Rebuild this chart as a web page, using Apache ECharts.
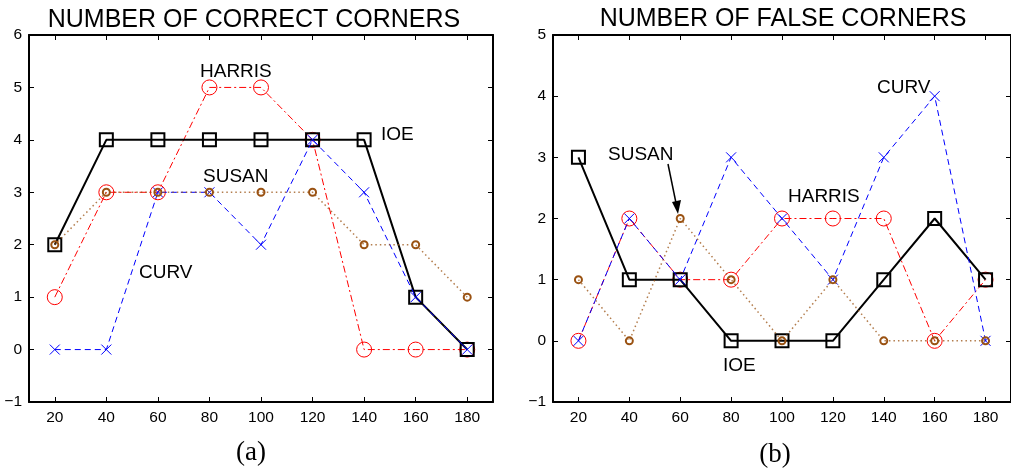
<!DOCTYPE html>
<html>
<head>
<meta charset="utf-8">
<script src="https://cdn.jsdelivr.net/npm/echarts@6/dist/echarts.min.js"></script>
<style>
html,body{margin:0;padding:0;background:#fff;}
#chart{width:1011px;height:470px;}
</style>
</head>
<body>
<div id="chart"></div>
<script>
const xValues = [20, 40, 60, 80, 100, 120, 140, 160, 180];
const xTicks = [20, 40, 60, 80, 100, 120, 140, 160, 180];

// (a) Number of correct corners
const correctIOE    = [2, 4, 4, 4, 4, 4, 4, 1, 0];
const correctHARRIS = [1, 3, 3, 5, 5, 4, 0, 0, 0];
const correctCURV   = [0, 0, 3, 3, 2, 4, 3, 1, 0];
const correctSUSAN  = [2, 3, 3, 3, 3, 3, 2, 2, 1];

// (b) Number of false corners
const falseIOE    = [3, 1, 1, 0, 0, 0, 1, 2, 1];
const falseHARRIS = [0, 2, 1, 1, 2, 2, 2, 0, 1];
const falseCURV   = [0, 2, 1, 3, 2, 1, 3, 4, 0];
const falseSUSAN  = [1, 0, 2, 1, 0, 1, 0, 0, 0];

const titles = ['NUMBER OF CORRECT CORNERS', 'NUMBER OF FALSE CORNERS'];
const panelLabels = ['(a)', '(b)'];

const FONT = 'Liberation Sans, Arial, Helvetica, sans-serif';
const RED = '#ff0000', BLUE = '#0000ff', BROWN = '#9a5212', BLACK = '#000000';
const pts = ys => xValues.map((x, i) => [x, ys[i]]);
const crossPath = 'path://M0,0L10,10M10,0L0,10';

function seriesSet(gi, ioe, harris, curv, susan) {
  return [
    { type: 'line', xAxisIndex: gi * 2, yAxisIndex: gi * 2, data: pts(harris), z: 2,
      symbol: 'circle', symbolSize: 15, showAllSymbol: true,
      lineStyle: { color: RED, width: 1, type: [7, 3, 2, 3] },
      itemStyle: { color: 'rgba(0,0,0,0)', borderColor: RED, borderWidth: 1 } },
    { type: 'line', xAxisIndex: gi * 2, yAxisIndex: gi * 2, data: pts(ioe), z: 3,
      symbol: 'rect', symbolSize: 13, showAllSymbol: true,
      lineStyle: { color: BLACK, width: 2, type: 'solid' },
      itemStyle: { color: 'rgba(0,0,0,0)', borderColor: BLACK, borderWidth: 2 } },
    { type: 'line', xAxisIndex: gi * 2, yAxisIndex: gi * 2, data: pts(curv), z: 4,
      symbol: crossPath, symbolSize: 10, showAllSymbol: true,
      lineStyle: { color: BLUE, width: 1, type: [6, 4] },
      itemStyle: { color: 'none', borderColor: BLUE, borderWidth: 1 } },
    { type: 'line', xAxisIndex: gi * 2, yAxisIndex: gi * 2, data: pts(susan), z: 5,
      symbol: 'circle', symbolSize: 7, showAllSymbol: true,
      lineStyle: { color: BROWN, width: 1.5, type: [1.5, 3], opacity: 0.75 },
      itemStyle: { color: 'rgba(0,0,0,0)', borderColor: BROWN, borderWidth: 2 } }
  ];
}

function xAxes(gi) {
  return [
    { type: 'value', gridIndex: gi, min: 10, max: 190, position: 'bottom',
      axisLine: { show: true, onZero: false, lineStyle: { color: BLACK, width: 2 } },
      axisTick: { show: true, inside: true, length: 5, customValues: xTicks, lineStyle: { color: BLACK } },
      axisLabel: { show: true, customValues: xTicks, margin: 8, color: BLACK, fontSize: 15.5, fontFamily: FONT },
      splitLine: { show: false } },
    { type: 'value', gridIndex: gi, min: 10, max: 190, position: 'top',
      axisLine: { show: true, onZero: false, lineStyle: { color: BLACK, width: 2 } },
      axisTick: { show: true, inside: true, length: 5, customValues: xTicks, lineStyle: { color: BLACK } },
      axisLabel: { show: false }, splitLine: { show: false } }
  ];
}

function yAxes(gi, max) {
  const fmt = v => String(v).replace('-', '\u2212');
  return [
    { type: 'value', gridIndex: gi, min: -1, max: max, interval: 1, position: 'left',
      axisLine: { show: true, onZero: false, lineStyle: { color: BLACK, width: 2 } },
      axisTick: { show: true, inside: true, length: 5, lineStyle: { color: BLACK } },
      axisLabel: { show: true, margin: 7, color: BLACK, fontSize: 15.5, fontFamily: FONT, formatter: fmt },
      splitLine: { show: false } },
    { type: 'value', gridIndex: gi, min: -1, max: max, interval: 1, position: 'right',
      axisLine: { show: true, onZero: false, lineStyle: { color: BLACK, width: 2 } },
      axisTick: { show: true, inside: true, length: 5, lineStyle: { color: BLACK } },
      axisLabel: { show: false }, splitLine: { show: false } }
  ];
}

function txt(x, y, s, size, font, align) {
  return { type: 'text', x: x, y: y, z: 100,
    style: { text: s, fill: BLACK, font: size + 'px ' + font, textAlign: align || 'left', textVerticalAlign: 'middle' } };
}

const chart = echarts.init(document.getElementById('chart'), null, { renderer: 'canvas' });
chart.setOption({
  animation: false,
  backgroundColor: '#ffffff',
  grid: [
    { left: 29, right: 518, top: 35, bottom: 68 },
    { left: 553, right: -8, top: 35, bottom: 68 }
  ],
  xAxis: [...xAxes(0), ...xAxes(1)],
  yAxis: [...yAxes(0, 6), ...yAxes(1, 5)],
  series: [
    ...seriesSet(0, correctIOE, correctHARRIS, correctCURV, correctSUSAN),
    ...seriesSet(1, falseIOE, falseHARRIS, falseCURV, falseSUSAN)
  ],
  graphic: [
    txt(254, 20, titles[0], 25, FONT, 'center'),
    txt(783, 19, titles[1], 25, FONT, 'center'),
    txt(251, 453, panelLabels[0], 27, 'Liberation Serif, Times New Roman, serif', 'center'),
    txt(775, 455, panelLabels[1], 27, 'Liberation Serif, Times New Roman, serif', 'center'),
    // (a) annotations
    txt(200, 72, 'HARRIS', 19, FONT),
    txt(381, 135, 'IOE', 19, FONT),
    txt(203, 177, 'SUSAN', 19, FONT),
    txt(139, 273, 'CURV', 19, FONT),
    // (b) annotations
    txt(608, 155, 'SUSAN', 19, FONT),
    txt(877, 88, 'CURV', 19, FONT),
    txt(788, 197, 'HARRIS', 19, FONT),
    txt(723, 366, 'IOE', 19, FONT),
    { type: 'line', z: 100, shape: { x1: 668, y1: 164, x2: 676, y2: 203 }, style: { stroke: BLACK, lineWidth: 1.5 } },
    { type: 'polygon', z: 100, shape: { points: [[672, 202], [681, 200], [678, 214]] }, style: { fill: BLACK } }
  ]
});
</script>
</body>
</html>
